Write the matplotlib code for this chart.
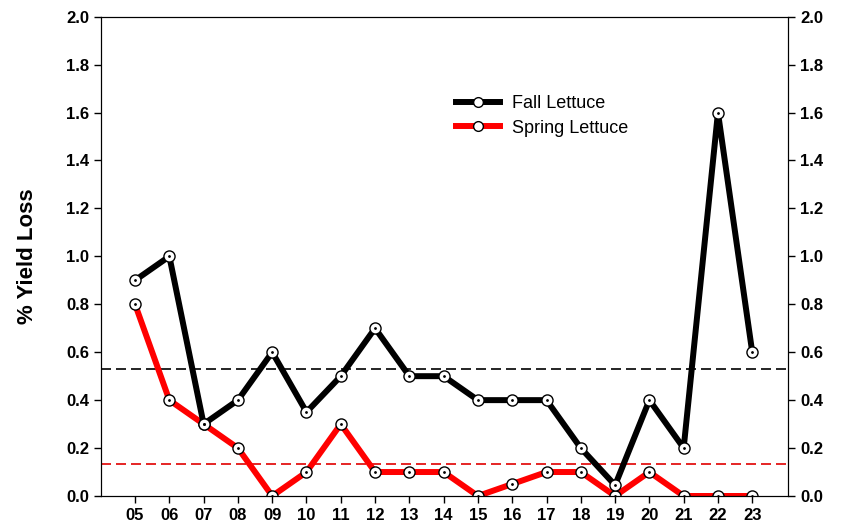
import matplotlib

matplotlib.use('Agg')
import matplotlib.pyplot as plt

plt.rcParams['font.family'] = ['Liberation Sans', 'DejaVu Sans']

years = list(range(5, 24))
year_labels = ['%02d' % y for y in years]

fall_loss = [0.9, 1.0, 0.3, 0.4, 0.6, 0.35, 0.5, 0.7, 0.5, 0.5,
             0.4, 0.4, 0.4, 0.2, 0.045, 0.4, 0.2, 1.6, 0.6]
spring_loss = [0.8, 0.4, 0.3, 0.2, 0.0, 0.1, 0.3, 0.1, 0.1, 0.1,
               0.0, 0.05, 0.1, 0.1, 0.0, 0.1, 0.0, 0.0, 0.0]

fall_mean = 0.53
spring_mean = 0.135

y_ticks = [0.0, 0.2, 0.4, 0.6, 0.8, 1.0, 1.2, 1.4, 1.6, 1.8, 2.0]

fig = plt.figure(figsize=(8.54, 5.29), dpi=100)
ax = fig.add_axes([0.118, 0.0624, 0.805, 0.906])

ax.axhline(fall_mean, color='black', linestyle=(0, (6, 3)), linewidth=1.2, zorder=1)
ax.axhline(spring_mean, color='#e00000', linestyle=(0, (6, 3)), linewidth=1.2, zorder=1)

ax.plot(years, fall_loss, color='black', linewidth=4.3, marker='o',
        markersize=8, markerfacecolor='white', markeredgecolor='black',
        markeredgewidth=1.0, label='Fall Lettuce', zorder=3)
ax.plot(years, spring_loss, color='red', linewidth=4.3, marker='o',
        markersize=8, markerfacecolor='white', markeredgecolor='black',
        markeredgewidth=1.0, label='Spring Lettuce', zorder=2)
# little dot in the centre of each marker
ax.plot(years, fall_loss, linestyle='none', marker='o', markersize=1.0,
        color='black', zorder=4)
ax.plot(years, spring_loss, linestyle='none', marker='o', markersize=1.0,
        color='black', zorder=4)

ax.set_xlim(4, 24.05)
ax.set_ylim(0, 2.0)
ax.set_xticks(years)
ax.set_xticklabels(year_labels, fontweight='bold', fontsize=12)
ax.set_yticks(y_ticks)
ax.set_yticklabels(['%.1f' % t for t in y_ticks], fontweight='bold', fontsize=12)
ax.tick_params(direction='out', length=5, width=1)
ax.set_ylabel('% Yield Loss', fontweight='bold', fontsize=16, labelpad=20)

ax2 = ax.twinx()
ax2.set_ylim(0, 2.0)
ax2.set_yticks(y_ticks)
ax2.set_yticklabels(['%.1f' % t for t in y_ticks], fontweight='bold', fontsize=12)
ax2.tick_params(direction='out', length=5, width=1)

leg = ax.legend(loc='center left', bbox_to_anchor=(0.517, 0.793), frameon=False,
                fontsize=13, handlelength=2.4, handletextpad=0.7, labelspacing=0.4,
                borderaxespad=0, borderpad=0)
for line in leg.get_lines():
    line.set_markersize(7)

plt.savefig('out.png', dpi=100)
plt.close()
